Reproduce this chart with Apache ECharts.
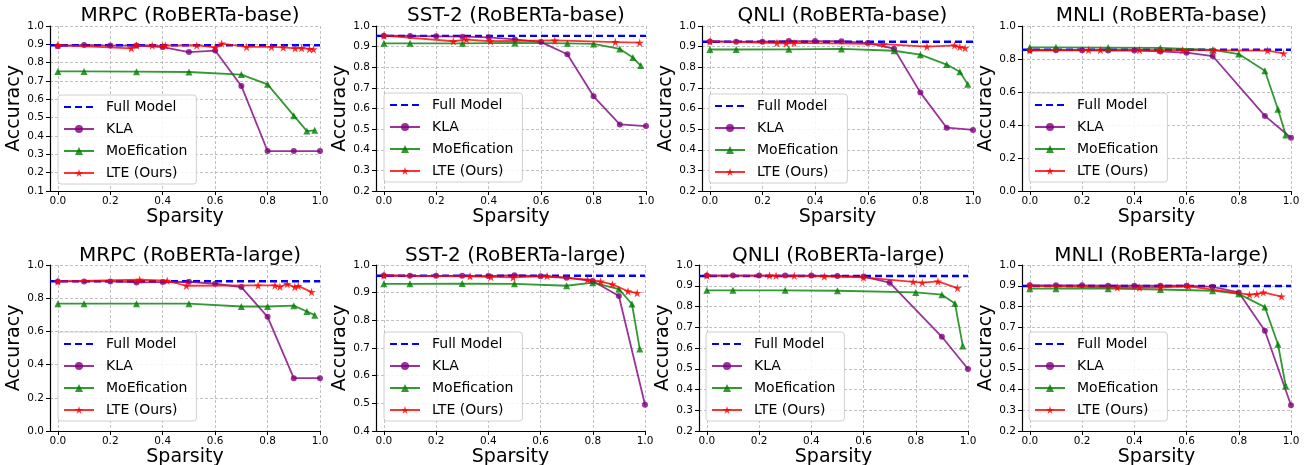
<!DOCTYPE html>
<html>
<head>
<meta charset="utf-8">
<script src="https://cdn.jsdelivr.net/npm/echarts@6/dist/echarts.min.js"></script>
<style>
html,body{margin:0;padding:0;background:#fff;}
#c{width:1308px;height:465px;}
</style>
</head>
<body>
<div id="c"></div>
<script>
// ---------- data ----------
const seriesNames = ['Full Model', 'KLA', 'MoEfication', 'LTE (Ours)'];
const xTicks = [0, 0.2, 0.4, 0.6, 0.8, 1.0];

// MRPC (RoBERTa-base)
const mrpcBaseFull = 0.895;
const mrpcBaseKlaX = [0, 0.1, 0.2, 0.3, 0.4, 0.5, 0.6, 0.7, 0.8, 0.9, 1.0];
const mrpcBaseKlaY = [0.890, 0.896, 0.893, 0.893, 0.885, 0.858, 0.866, 0.673, 0.318, 0.318, 0.318];
const mrpcBaseMoeX = [0, 0.1, 0.3, 0.5, 0.7, 0.8, 0.9, 0.95, 0.98];
const mrpcBaseMoeY = [0.752, 0.752, 0.751, 0.749, 0.735, 0.682, 0.511, 0.427, 0.431];
const mrpcBaseLteX = [0, 0.28, 0.3, 0.36, 0.4, 0.41, 0.53, 0.6, 0.625, 0.72, 0.815, 0.86, 0.905, 0.93, 0.96, 0.975];
const mrpcBaseLteY = [0.896, 0.878, 0.893, 0.893, 0.892, 0.893, 0.894, 0.883, 0.904, 0.886, 0.886, 0.883, 0.878, 0.880, 0.875, 0.873];

// SST-2 (RoBERTa-base)
const sstBaseFull = 0.952;
const sstBaseKlaX = [0, 0.1, 0.2, 0.3, 0.4, 0.5, 0.6, 0.7, 0.8, 0.9, 1.0];
const sstBaseKlaY = [0.953, 0.952, 0.950, 0.948, 0.945, 0.935, 0.922, 0.863, 0.659, 0.523, 0.515];
const sstBaseMoeX = [0, 0.1, 0.3, 0.5, 0.7, 0.8, 0.9, 0.95, 0.98];
const sstBaseMoeY = [0.916, 0.916, 0.916, 0.918, 0.916, 0.913, 0.889, 0.847, 0.808];
const sstBaseLteX = [0, 0.265, 0.315, 0.407, 0.652, 0.883, 0.976];
const sstBaseLteY = [0.953, 0.926, 0.934, 0.926, 0.930, 0.922, 0.919];

// QNLI (RoBERTa-base)
const qnliBaseFull = 0.924;
const qnliBaseKlaX = [0, 0.1, 0.2, 0.3, 0.4, 0.5, 0.6, 0.7, 0.8, 0.9, 1.0];
const qnliBaseKlaY = [0.925, 0.924, 0.924, 0.927, 0.927, 0.926, 0.917, 0.890, 0.677, 0.507, 0.496];
const qnliBaseMoeX = [0, 0.1, 0.3, 0.5, 0.7, 0.8, 0.9, 0.95, 0.98];
const qnliBaseMoeY = [0.886, 0.886, 0.887, 0.889, 0.880, 0.861, 0.813, 0.778, 0.717];
const qnliBaseLteX = [0, 0.255, 0.29, 0.32, 0.66, 0.825, 0.93, 0.95, 0.97];
const qnliBaseLteY = [0.925, 0.917, 0.915, 0.918, 0.912, 0.900, 0.906, 0.898, 0.893];

// MNLI (RoBERTa-base)
const mnliBaseFull = 0.856;
const mnliBaseKlaX = [0, 0.1, 0.2, 0.3, 0.4, 0.5, 0.6, 0.7, 0.9, 1.0];
const mnliBaseKlaY = [0.853, 0.853, 0.853, 0.851, 0.851, 0.846, 0.838, 0.818, 0.455, 0.323];
const mnliBaseMoeX = [0, 0.1, 0.3, 0.5, 0.7, 0.8, 0.9, 0.95, 0.98];
const mnliBaseMoeY = [0.871, 0.871, 0.869, 0.867, 0.855, 0.830, 0.729, 0.495, 0.339];
const mnliBaseLteX = [0, 0.225, 0.27, 0.42, 0.495, 0.585, 0.705, 0.91, 0.972];
const mnliBaseLteY = [0.853, 0.855, 0.855, 0.855, 0.854, 0.855, 0.853, 0.851, 0.834];

// MRPC (RoBERTa-large)
const mrpcLargeFull = 0.902;
const mrpcLargeKlaX = [0, 0.1, 0.2, 0.3, 0.4, 0.5, 0.6, 0.7, 0.8, 0.9, 1.0];
const mrpcLargeKlaY = [0.901, 0.901, 0.901, 0.895, 0.897, 0.899, 0.887, 0.867, 0.688, 0.318, 0.318];
const mrpcLargeMoeX = [0, 0.1, 0.3, 0.5, 0.7, 0.8, 0.9, 0.95, 0.98];
const mrpcLargeMoeY = [0.767, 0.767, 0.767, 0.767, 0.750, 0.750, 0.755, 0.720, 0.698];
const mrpcLargeLteX = [0, 0.312, 0.417, 0.49, 0.764, 0.828, 0.847, 0.875, 0.904, 0.917, 0.968];
const mrpcLargeLteY = [0.901, 0.911, 0.905, 0.875, 0.877, 0.877, 0.869, 0.885, 0.867, 0.874, 0.837];

// SST-2 (RoBERTa-large)
const sstLargeFull = 0.961;
const sstLargeKlaX = [0, 0.1, 0.2, 0.3, 0.4, 0.5, 0.6, 0.7, 0.8, 0.9, 1.0];
const sstLargeKlaY = [0.962, 0.961, 0.961, 0.961, 0.960, 0.963, 0.959, 0.954, 0.942, 0.888, 0.495];
const sstLargeMoeX = [0, 0.1, 0.3, 0.5, 0.7, 0.8, 0.9, 0.95, 0.98];
const sstLargeMoeY = [0.932, 0.932, 0.933, 0.932, 0.925, 0.936, 0.913, 0.859, 0.696];
const sstLargeLteX = [0, 0.33, 0.41, 0.495, 0.625, 0.78, 0.83, 0.875, 0.935, 0.97];
const sstLargeLteY = [0.962, 0.959, 0.957, 0.955, 0.960, 0.947, 0.940, 0.930, 0.905, 0.899];

// QNLI (RoBERTa-large)
const qnliLargeFull = 0.947;
const qnliLargeKlaX = [0, 0.1, 0.2, 0.3, 0.4, 0.5, 0.6, 0.7, 0.9, 1.0];
const qnliLargeKlaY = [0.949, 0.949, 0.949, 0.949, 0.949, 0.947, 0.944, 0.915, 0.654, 0.499];
const qnliLargeMoeX = [0, 0.1, 0.3, 0.5, 0.8, 0.9, 0.95, 0.98];
const qnliLargeMoeY = [0.878, 0.878, 0.878, 0.876, 0.868, 0.857, 0.815, 0.610];
const qnliLargeLteX = [0, 0.24, 0.265, 0.335, 0.45, 0.6, 0.79, 0.825, 0.885, 0.96];
const qnliLargeLteY = [0.949, 0.949, 0.948, 0.948, 0.945, 0.940, 0.919, 0.915, 0.921, 0.889];

// MNLI (RoBERTa-large)
const mnliLargeFull = 0.899;
const mnliLargeKlaX = [0, 0.1, 0.2, 0.3, 0.4, 0.5, 0.6, 0.7, 0.8, 0.9, 1.0];
const mnliLargeKlaY = [0.902, 0.902, 0.902, 0.900, 0.900, 0.900, 0.900, 0.895, 0.868, 0.683, 0.324];
const mnliLargeMoeX = [0, 0.1, 0.3, 0.5, 0.7, 0.8, 0.9, 0.95, 0.98];
const mnliLargeMoeY = [0.886, 0.886, 0.886, 0.882, 0.876, 0.861, 0.797, 0.618, 0.417];
const mnliLargeLteX = [0, 0.335, 0.42, 0.5, 0.608, 0.841, 0.869, 0.894, 0.964];
const mnliLargeLteY = [0.900, 0.891, 0.891, 0.892, 0.897, 0.857, 0.860, 0.868, 0.848];

const panelTitles = [
  'MRPC (RoBERTa-base)', 'SST-2 (RoBERTa-base)', 'QNLI (RoBERTa-base)', 'MNLI (RoBERTa-base)',
  'MRPC (RoBERTa-large)', 'SST-2 (RoBERTa-large)', 'QNLI (RoBERTa-large)', 'MNLI (RoBERTa-large)'
];
const yMins = [0.1, 0.2, 0.2, 0.0, 0.0, 0.4, 0.2, 0.2];
const yIntervals = [0.1, 0.1, 0.1, 0.2, 0.2, 0.1, 0.1, 0.1];

// ---------- build ----------
const panelData = [
  [mrpcBaseFull, mrpcBaseKlaX, mrpcBaseKlaY, mrpcBaseMoeX, mrpcBaseMoeY, mrpcBaseLteX, mrpcBaseLteY],
  [sstBaseFull, sstBaseKlaX, sstBaseKlaY, sstBaseMoeX, sstBaseMoeY, sstBaseLteX, sstBaseLteY],
  [qnliBaseFull, qnliBaseKlaX, qnliBaseKlaY, qnliBaseMoeX, qnliBaseMoeY, qnliBaseLteX, qnliBaseLteY],
  [mnliBaseFull, mnliBaseKlaX, mnliBaseKlaY, mnliBaseMoeX, mnliBaseMoeY, mnliBaseLteX, mnliBaseLteY],
  [mrpcLargeFull, mrpcLargeKlaX, mrpcLargeKlaY, mrpcLargeMoeX, mrpcLargeMoeY, mrpcLargeLteX, mrpcLargeLteY],
  [sstLargeFull, sstLargeKlaX, sstLargeKlaY, sstLargeMoeX, sstLargeMoeY, sstLargeLteX, sstLargeLteY],
  [qnliLargeFull, qnliLargeKlaX, qnliLargeKlaY, qnliLargeMoeX, qnliLargeMoeY, qnliLargeLteX, qnliLargeLteY],
  [mnliLargeFull, mnliLargeKlaX, mnliLargeKlaY, mnliLargeMoeX, mnliLargeMoeY, mnliLargeLteX, mnliLargeLteY]
];

const XMIN = -0.03, XMAX = 1.0;
const FONT = 'DejaVu Sans';
const grids = [
  {left: 50, top: 26, width: 270, height: 165},
  {left: 376, top: 26, width: 270, height: 165},
  {left: 702, top: 26, width: 271, height: 165},
  {left: 1022, top: 26, width: 269, height: 165},
  {left: 50, top: 265, width: 270, height: 166},
  {left: 376, top: 265, width: 269, height: 166},
  {left: 699, top: 265, width: 269, height: 166},
  {left: 1022, top: 265, width: 269, height: 166}
];
const legendPos = [
  [58, 95], [384, 93], [709, 94], [1029, 93],
  [58, 332], [384, 332], [706, 332], [1029, 332]
];
const STAR = 'path://M100,0 L122.34,69.26 L195.11,69.1 L136.14,111.74 L158.78,180.9 L100,138 L41.22,180.9 L63.86,111.74 L4.89,69.1 L77.66,69.26 Z';
const zip = (xs, ys) => xs.map((x, i) => [x, ys[i]]);

const option = {
  animation: false,
  backgroundColor: '#fff',
  textStyle: {fontFamily: FONT},
  title: [], grid: [], xAxis: [], yAxis: [], legend: [], series: []
};

panelTitles.forEach((t, i) => {
  const g = grids[i];
  const top = i < 4 ? 1 : 241;
  option.grid.push({left: g.left, top: g.top, width: g.width, height: g.height,
    containLabel: false, outerBoundsMode: 'none'});
  option.title.push({
    text: t, left: g.left + g.width / 2, top: top, textAlign: 'center',
    textStyle: {fontFamily: FONT, fontSize: 20, fontWeight: 'normal', color: '#000'}
  });
  option.xAxis.push({
    type: 'value', gridIndex: i, min: XMIN, max: XMAX,
    name: 'Sparsity', nameLocation: 'middle', nameGap: 16,
    nameTextStyle: {fontFamily: FONT, fontSize: 19, color: '#000', verticalAlign: 'top'},
    axisLine: {show: true, onZero: false, lineStyle: {color: '#000', width: 1.2}},
    axisTick: {show: true, length: 4, customValues: xTicks, lineStyle: {color: '#000'}},
    axisLabel: {customValues: xTicks, fontFamily: FONT, fontSize: 10.5, color: '#000', margin: 5,
      formatter: v => v.toFixed(1)},
    splitLine: {show: true, lineStyle: {color: '#b0b0b0', type: [3, 2], width: 0.8}}
  });
  option.yAxis.push({
    type: 'value', gridIndex: i, min: yMins[i], max: 1.0, interval: yIntervals[i],
    name: 'Accuracy', nameLocation: 'middle', nameGap: 24, nameRotate: 90,
    nameTextStyle: {fontFamily: FONT, fontSize: 19, color: '#000'},
    axisLine: {show: true, onZero: false, lineStyle: {color: '#000', width: 1.2}},
    axisTick: {show: true, length: 4, lineStyle: {color: '#000'}},
    axisLabel: {fontFamily: FONT, fontSize: 10.5, color: '#000', margin: 6,
      formatter: v => v.toFixed(1)},
    splitLine: {show: true, lineStyle: {color: '#b0b0b0', type: [3, 2], width: 0.8}}
  });
  option.legend.push({
    left: legendPos[i][0], top: legendPos[i][1], orient: 'vertical',
    data: [{name: seriesNames[0], itemStyle: {opacity: 0}}, seriesNames[1], seriesNames[2], seriesNames[3]],
    itemWidth: 30, itemHeight: 10, itemGap: 6,
    padding: [4, 9, 3, 5],
    backgroundColor: 'rgba(255,255,255,0.85)', borderColor: '#d0d0d0', borderWidth: 1, borderRadius: 3,
    textStyle: {fontFamily: FONT, fontSize: 14, lineHeight: 16, color: '#000', padding: [0, 0, 0, 7]}
  });

  const d = panelData[i];
  option.series.push({
    name: seriesNames[0], type: 'line', xAxisIndex: i, yAxisIndex: i,
    data: [[XMIN, d[0]], [XMAX, d[0]]], symbol: 'none', z: 2,
    lineStyle: {color: '#0000ff', width: 2.4, type: [7, 4]}, itemStyle: {color: '#0000ff'}
  });
  option.series.push({
    name: seriesNames[1], type: 'line', xAxisIndex: i, yAxisIndex: i,
    data: zip(d[1], d[2]), symbol: 'circle', symbolSize: 6, z: 3,
    lineStyle: {color: '#800080', width: 1.8, opacity: 0.8},
    itemStyle: {color: '#800080', opacity: 0.8}
  });
  option.series.push({
    name: seriesNames[2], type: 'line', xAxisIndex: i, yAxisIndex: i,
    data: zip(d[3], d[4]), symbol: 'triangle', symbolSize: 7, z: 3,
    lineStyle: {color: '#008000', width: 1.8, opacity: 0.8},
    itemStyle: {color: '#008000', opacity: 0.8}
  });
  option.series.push({
    name: seriesNames[3], type: 'line', xAxisIndex: i, yAxisIndex: i,
    data: zip(d[5], d[6]), symbol: STAR, symbolSize: 8.5, z: 4,
    lineStyle: {color: '#ff0000', width: 1.8, opacity: 0.8},
    itemStyle: {color: '#ff0000', opacity: 0.8}
  });
});

const chart = echarts.init(document.getElementById('c'), null, {renderer: 'canvas'});
chart.setOption(option);
</script>
</body>
</html>
